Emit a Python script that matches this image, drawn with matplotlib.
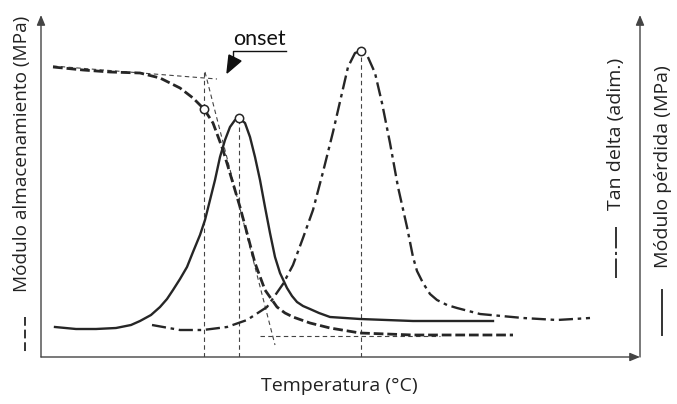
import matplotlib
matplotlib.use("Agg")
import matplotlib.pyplot as plt
from matplotlib.lines import Line2D
from matplotlib.patches import Polygon

# curves (arbitrary units: temperature 0-599, signal 0-342)
storage_T = [12, 42, 69, 99, 119, 139, 152, 163, 172, 182, 191, 199, 206, 214,
             224, 236, 244, 252, 269, 289, 319, 372, 419, 472]
storage_E = [290, 287, 285, 284, 279, 269, 259, 248, 234, 207, 177, 150, 124, 94,
             67, 50, 44, 40, 34, 29, 24, 22, 22, 22]

loss_T = [14, 35, 55, 75, 90, 99, 110, 119, 126, 132, 139, 146, 152, 159, 164,
          169, 174, 179, 184, 189, 194, 198, 204, 209, 214, 219, 224, 229, 234,
          239, 246, 251, 256, 262, 269, 278, 289, 319, 372, 452]
loss_E = [30, 28, 28, 29, 32, 36, 42, 50, 58, 67, 78, 90, 105, 122, 137,
          157, 177, 200, 217, 230, 237, 239, 234, 220, 200, 177, 150, 124, 100,
          84, 69, 61, 55, 51, 48, 44, 40, 38, 36, 36]

tan_T = [111, 139, 162, 186, 206, 226, 242, 252, 262, 272, 282, 292, 301, 307,
         314, 320, 326, 334, 341, 349, 357, 366, 372, 376, 382, 389, 396, 406,
         416, 439, 482, 516, 549]
tan_d = [32, 27, 27, 30, 37, 50, 73, 92, 119, 147, 185, 225, 264, 290,
         304, 306, 302, 284, 254, 214, 170, 130, 100, 86, 74, 63, 57, 52,
         49, 43, 39, 37, 39]

# characteristic points (onset, loss peak, tan delta peak)
onset = (163, 248)
loss_peak = (198, 239)
tan_peak = (320, 306)
onset_top = 285

# tangent lines used to find the onset
plateau_tan = ([12, 176], [291, 278])
slope_tan = ([164, 234], [285, 12])
rubber_tan = ([219, 399], [21.5, 21.5])

W, H = 677, 404


def px(x, y):
    return x / W, 1 - y / H


def main():
    fig = plt.figure(figsize=(W / 100, H / 100), dpi=100)
    ax = fig.add_axes([41 / W, 47 / H, 599 / W, 342 / H])
    ax.set_xlim(0, 599)
    ax.set_ylim(0, 342)
    ax.axis('off')

    ink = '#262626'
    thin = dict(color='#444444', lw=0.8, ls=(0, (4, 3)))

    ax.plot(*plateau_tan, **thin)
    ax.plot(*slope_tan, **thin)
    ax.plot(*rubber_tan, **thin)
    ax.plot([onset[0]] * 2, [0, onset_top], **thin)
    ax.plot([loss_peak[0]] * 2, [0, loss_peak[1]], **thin)
    ax.plot([tan_peak[0]] * 2, [0, tan_peak[1]], **thin)

    ax.plot(storage_T, storage_E, color=ink, lw=2.0, ls=(0, (3.5, 1.4)),
            solid_joinstyle='round')
    ax.plot(loss_T, loss_E, color=ink, lw=1.7, solid_joinstyle='round')
    ax.plot(tan_T, tan_d, color=ink, lw=1.7, ls=(0, (6, 2, 1.5, 2)))

    for x, y in [onset, loss_peak, tan_peak]:
        ax.plot(x, y, 'o', ms=6, mfc='white', mec=ink, mew=1.1, zorder=5)

    # axes with arrows
    arr = dict(arrowstyle='-|>,head_length=0.6,head_width=0.25', color='#444444',
               lw=1.0, shrinkA=0, shrinkB=0)
    ax.annotate('', xy=(0, 1), xytext=(0, 0), xycoords='axes fraction', arrowprops=arr)
    ax.annotate('', xy=(1, 0), xytext=(0, 0), xycoords='axes fraction', arrowprops=arr)
    ax.annotate('', xy=(1, 1), xytext=(1, 0), xycoords='axes fraction', arrowprops=arr)

    font = 'Open Sans'
    tc = '#222222'
    fig.text(*px(339, 386), 'Temperatura (°C)', ha='center', va='center',
             fontsize=14, family=font, color=tc)
    fig.text(*px(22, 154), 'Módulo almacenamiento (MPa)', ha='center', va='center',
             rotation=90, fontsize=13.7, family=font, color=tc)
    fig.text(*px(616, 134), 'Tan delta (adim.)', ha='center', va='center',
             rotation=90, fontsize=14, family=font, color=tc)
    fig.text(*px(663, 167), 'Módulo pérdida (MPa)', ha='center', va='center',
             rotation=90, fontsize=14, family=font, color=tc)

    # line-style keys next to the axis titles
    fig.add_artist(Line2D(*zip(px(25, 317), px(25, 354)), color='#333333', lw=1.4,
                          ls=(0, (4.5, 2))))
    fig.add_artist(Line2D(*zip(px(616, 227), px(616, 278)), color='#333333', lw=1.4,
                          ls=(0, (11, 1.8, 1.6, 1.8))))
    fig.add_artist(Line2D(*zip(px(662, 290), px(662, 335)), color='#333333', lw=1.4))

    # onset callout
    fig.text(*px(259.5, 45), 'onset', ha='center', va='baseline', fontsize=15.5,
             family='Lato', color='#111111')
    fig.add_artist(Line2D(*zip(px(286, 51), px(233, 51), px(233, 57)),
                          color='#111111', lw=1.0))
    fig.add_artist(Polygon([px(227, 73), px(229, 55), px(241, 61)], closed=True,
                           transform=fig.transFigure, color='#111111'))

    fig.savefig('out.png', dpi=100)


if __name__ == "__main__":
    main()
